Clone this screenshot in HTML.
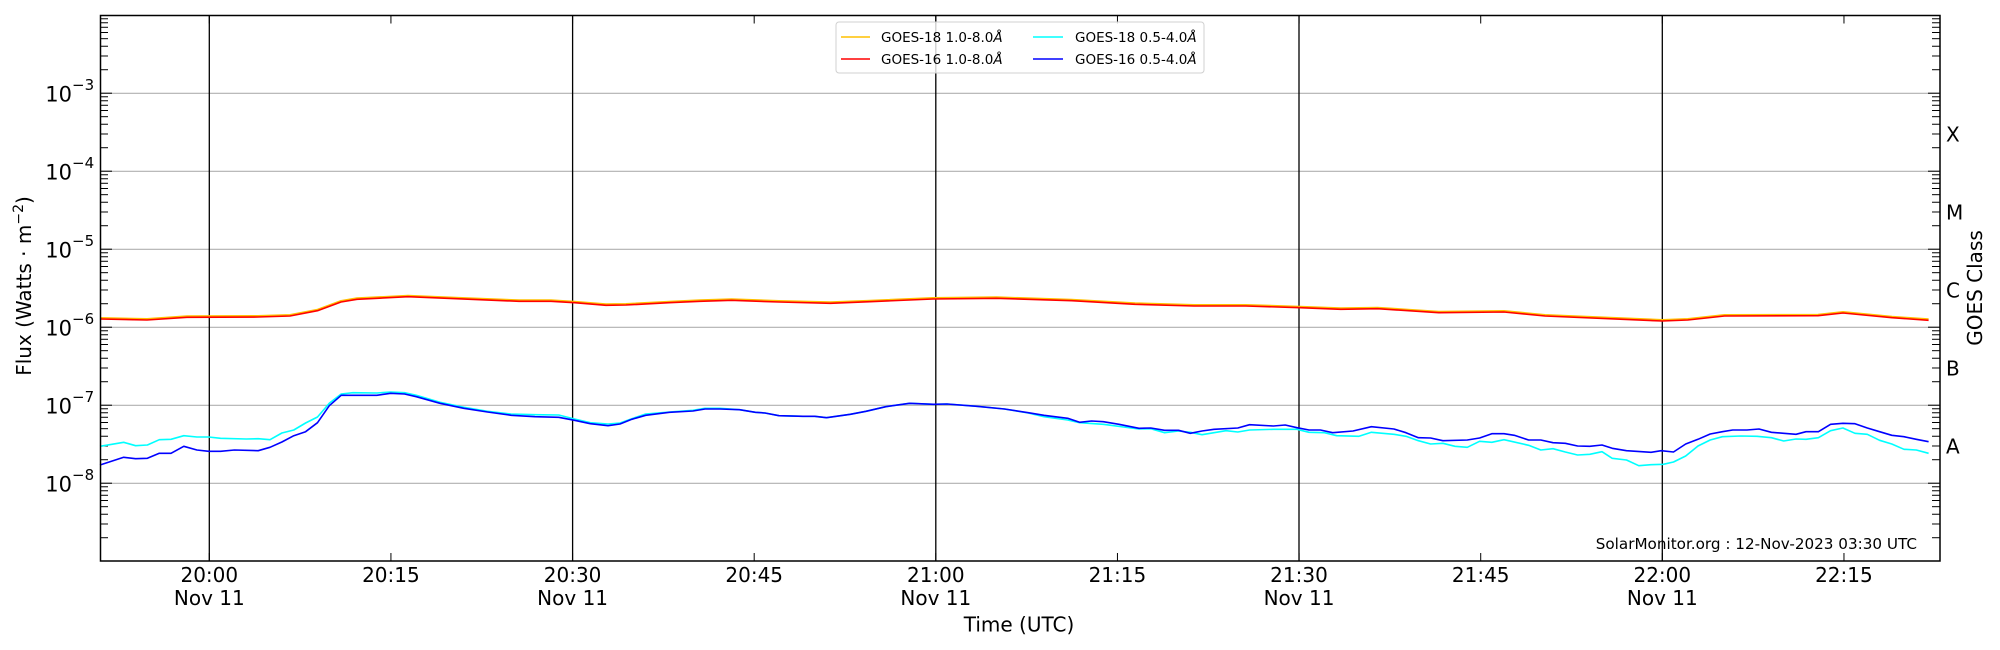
<!DOCTYPE html>
<html><head><meta charset="utf-8"><style>
html,body{margin:0;padding:0;background:#fff;}
svg{display:block;font-family:"DejaVu Sans","Liberation Sans",sans-serif;}
</style></head><body>
<svg id="s" width="2000" height="650" viewBox="0 0 2000 650" xmlns="http://www.w3.org/2000/svg">
<rect width="2000" height="650" fill="#fff"/>
<g id="grid" stroke="#b0b0b0" stroke-width="1.2">
<line x1="100" x2="1940" y1="93.3" y2="93.3"/>
<line x1="100" x2="1940" y1="171.3" y2="171.3"/>
<line x1="100" x2="1940" y1="249.3" y2="249.3"/>
<line x1="100" x2="1940" y1="327.3" y2="327.3"/>
<line x1="100" x2="1940" y1="405.3" y2="405.3"/>
<line x1="100" x2="1940" y1="483.3" y2="483.3"/>
</g>
<g stroke="#000" stroke-width="1.3">
<line x1="209.3" x2="209.3" y1="15.5" y2="561"/>
<line x1="572.6" x2="572.6" y1="15.5" y2="561"/>
<line x1="935.8" x2="935.8" y1="15.5" y2="561"/>
<line x1="1299" x2="1299" y1="15.5" y2="561"/>
<line x1="1662.3" x2="1662.3" y1="15.5" y2="561"/>
</g>
<g id="ticks" stroke="#000" stroke-width="1"></g>
<g fill="none" stroke-width="1.6" stroke-linejoin="round">
<polyline stroke="#ffc000" transform="translate(0,-1.2)" points="100,319 147,320 187,317.3 258,317 290,316 317.5,310.7 341,302 357,299.3 408,296.7 456,298.7 519,301.3 551,301.3 574.5,302.7 606,305.3 626,305 669,302.7 700,301.3 731.6,300.3 779,302 830.5,303.3 870,301.7 933,299 996.6,298.3 1071.7,300.7 1135,304.3 1194,306 1245.7,306 1300,307.7 1340.8,309.3 1377.6,308.7 1438.8,312.7 1504,312 1545,316 1662.4,321 1687.8,320 1724.5,316 1818,315.7 1843,313 1892,317.7 1928.6,320.3"/>
<polyline stroke="#ff0000" points="100,319 147,320 187,317.3 258,317 290,316 317.5,310.7 341,302 357,299.3 408,296.7 456,298.7 519,301.3 551,301.3 574.5,302.7 606,305.3 626,305 669,302.7 700,301.3 731.6,300.3 779,302 830.5,303.3 870,301.7 933,299 996.6,298.3 1071.7,300.7 1135,304.3 1194,306 1245.7,306 1300,307.7 1340.8,309.3 1377.6,308.7 1438.8,312.7 1504,312 1545,316 1662.4,321 1687.8,320 1724.5,316 1818,315.7 1843,313 1892,317.7 1928.6,320.3"/>
<polyline stroke="#00ffff" points="100,446.3 123.7,442.3 135.6,445.7 147.4,445 159.3,439.7 171,439.3 183.8,435.7 196.9,437 208.7,437 220.6,438.3 246.3,439 258.2,438.7 270,439.7 281.9,433 293.8,430 305.6,423 317.5,417 329.3,403.3 341.2,394 353,392.7 376.8,393 390.6,392 404.5,392.7 416.3,395.3 440,402.3 463.8,407.3 487.5,411.3 511,414 535,414.7 558.7,415 574.5,419 590.3,422.7 608,424 620,423 631.8,418.7 645.7,414 669.4,412 693,410.3 705,408.3 720,408.3 739.5,409.7 755.4,412.3 765,413 779,415.7 802.8,416.3 814.7,416.3 826.5,417.7 850.3,414.3 866,411.3 885.8,406.7 909.6,403.3 933.3,404.3 947,404 976.8,406.3 1004.5,409 1028.2,413 1044,416.7 1067.7,420 1079.6,422.7 1103.3,424.3 1139,429 1150.8,428.7 1164.6,432.7 1178.5,431 1190.3,432.3 1202,434.7 1226,430.7 1237.8,432 1249.6,430 1273.4,429.3 1297,429.3 1309,432.3 1324.5,432.7 1336.7,435.7 1359,436.3 1371.4,432.3 1393.9,434.3 1406,436.3 1418.4,440.7 1430.6,444 1442.9,443.3 1455,446.3 1467.3,447.3 1479.6,441.3 1491.8,442.3 1504,439.7 1528.6,445.3 1540.8,450 1553,448.7 1565.3,452 1577.6,455 1589.8,454.3 1602,451.7 1612.2,458.3 1626.5,460 1638.8,465.7 1651,464.7 1663.3,464.3 1673.5,462 1685.7,456 1698,446 1710.2,440 1722.4,436.7 1740.8,436 1757,436.3 1771.4,437.7 1783.7,441 1796,439 1806,439.3 1818.4,437.7 1830.6,430.7 1842.9,428 1855,433.3 1867.3,434.3 1879.6,440.3 1891.8,444 1904,449.3 1916.3,450 1928.6,453.3"/>
<polyline stroke="#0000ff" points="100,465 123.7,457.3 135.6,458.7 147.4,458.3 159.3,453.3 171,453.3 183.8,446.3 196.9,450 208.7,451.3 220.6,451.3 234.4,450 258.2,450.7 270,447.3 281.9,442 293.8,435.7 305.6,431.7 317.5,422.7 329.3,405.7 341.2,395.3 376.8,395.3 390.6,393.3 404.5,394 416.3,396.7 440,403.3 463.8,408.3 487.5,412 511.2,415.3 535,416.7 558.7,417.3 574.5,420.3 590.3,423.7 608,425.7 620,424 631.8,419.3 645.7,415.3 669.4,412.3 693,411 705,409 720,409 739.5,409.7 755.4,412.3 765,413 779,415.7 802.8,416.3 814.7,416.3 826.5,417.7 850.3,414.3 866,411.3 885.8,406.7 909.6,403.3 933.3,404.3 947,404 976.8,406.3 1004.5,409 1028.2,412.7 1044,415.3 1067.7,418.3 1079.6,422.3 1091.5,421 1103.3,421.7 1119,424.3 1139,428.3 1150.8,428 1164.6,430.3 1178.5,430.3 1190.3,433.3 1202,431 1214,429.3 1237.8,428 1249.6,424.7 1273.4,426 1285.2,425 1297,427.7 1309,430 1320.4,430 1332.7,432.7 1353,431 1371.4,426.7 1393.9,429 1406,432.7 1418.4,437.7 1430.6,438 1442.9,440.7 1467.3,440 1479.6,438 1491.8,433.7 1504,433.7 1514.3,435.3 1528.6,440 1540.8,440 1553,442.7 1565.3,443.3 1577.6,446 1589.8,446.3 1602,445 1612.2,448.3 1626.5,450.7 1651,452.3 1661.2,450.7 1673.5,452 1685.7,444 1698,439.3 1710.2,434 1722.4,431.7 1732.7,430 1747,430 1759,429 1771.4,432.3 1783.7,433.3 1796,434.3 1806,431.7 1818.4,431.7 1830.6,424.3 1842.9,423.3 1855,423.7 1867.3,428 1879.6,431.7 1891.8,435.3 1904,436.7 1916.3,439.3 1928.6,441.7"/>
</g>
<rect x="100.5" y="15.5" width="1839.5" height="545.5" fill="none" stroke="#000" stroke-width="1.5"/>
<rect x="836" y="22" width="368" height="51" rx="3" fill="#fff" fill-opacity="0.8" stroke="#d0d0d0" stroke-width="1"/>
<g stroke-width="1.6">
<line x1="841" x2="870" y1="37" y2="37" stroke="#ffc000"/>
<line x1="841" x2="870" y1="59" y2="59" stroke="#ff0000"/>
<line x1="1033" x2="1063" y1="37" y2="37" stroke="#00ffff"/>
<line x1="1033" x2="1063" y1="59" y2="59" stroke="#0000ff"/>
</g>
<g font-size="13.5" fill="#000">
<text x="881" y="42">GOES-18 1.0-8.0<tspan font-style="italic">Å</tspan></text>
<text x="881" y="64">GOES-16 1.0-8.0<tspan font-style="italic">Å</tspan></text>
<text x="1075" y="42">GOES-18 0.5-4.0<tspan font-style="italic">Å</tspan></text>
<text x="1075" y="64">GOES-16 0.5-4.0<tspan font-style="italic">Å</tspan></text>
</g>
<g font-size="21" fill="#000" text-anchor="end">
<text x="72" y="101.5">10</text><text x="72" y="179.5">10</text><text x="72" y="257.5">10</text><text x="72" y="335.5">10</text><text x="72" y="413.5">10</text><text x="72" y="491.5">10</text>
</g>
<g font-size="15" fill="#000">
<text x="72" y="90">−3</text><text x="72" y="168">−4</text><text x="72" y="246">−5</text><text x="72" y="324">−6</text><text x="72" y="402">−7</text><text x="72" y="480">−8</text>
</g>
<text transform="translate(31,286) rotate(-90)" text-anchor="middle" font-size="20">Flux (Watts · m<tspan font-size="14" dy="-8">−2</tspan><tspan dy="8">)</tspan></text>
<g font-size="20" fill="#000">
<text x="1946" y="141.5">X</text><text x="1946" y="219.5">M</text><text x="1946" y="297.5">C</text><text x="1946" y="375.5">B</text><text x="1946" y="453.5">A</text>
</g>
<text transform="translate(1982,288) rotate(-90)" text-anchor="middle" font-size="20">GOES Class</text>
<g font-size="20" fill="#000" text-anchor="middle">
<text x="209.3" y="582">20:00</text><text x="209.3" y="605">Nov 11</text>
<text x="390.9" y="582">20:15</text>
<text x="572.6" y="582">20:30</text><text x="572.6" y="605">Nov 11</text>
<text x="754.2" y="582">20:45</text>
<text x="935.8" y="582">21:00</text><text x="935.8" y="605">Nov 11</text>
<text x="1117.4" y="582">21:15</text>
<text x="1299" y="582">21:30</text><text x="1299" y="605">Nov 11</text>
<text x="1480.7" y="582">21:45</text>
<text x="1662.3" y="582">22:00</text><text x="1662.3" y="605">Nov 11</text>
<text x="1843.9" y="582">22:15</text>
<text x="1019" y="631.5">Time (UTC)</text>
</g>
<text x="1917" y="549" text-anchor="end" font-size="15.2">SolarMonitor.org : 12-Nov-2023 03:30 UTC</text>
</svg>
<script>
(function(){
var g=document.getElementById('ticks'),h='';
function L(x1,y1,x2,y2){h+='<line x1="'+x1+'" y1="'+y1+'" x2="'+x2+'" y2="'+y2+'"/>';}
var bot=561.2,D=78;
for(var n=0;n<7;n++){
 var base=bot-n*D;
 if(n>0){L(100,base,112,base);L(1928,base,1940,base);}
 for(var k=2;k<=9;k++){var y=base-Math.log10(k)*D; if(y<16)continue; L(100,y,108,y);L(1932,y,1940,y);}
}
for(var i=0;i<=9;i++){var x=209.3+181.63*i; if(x>1940)break; L(x,561,x,553);L(x,15.5,x,23.5);}
g.innerHTML=h;
})();
</script>
</body></html>
